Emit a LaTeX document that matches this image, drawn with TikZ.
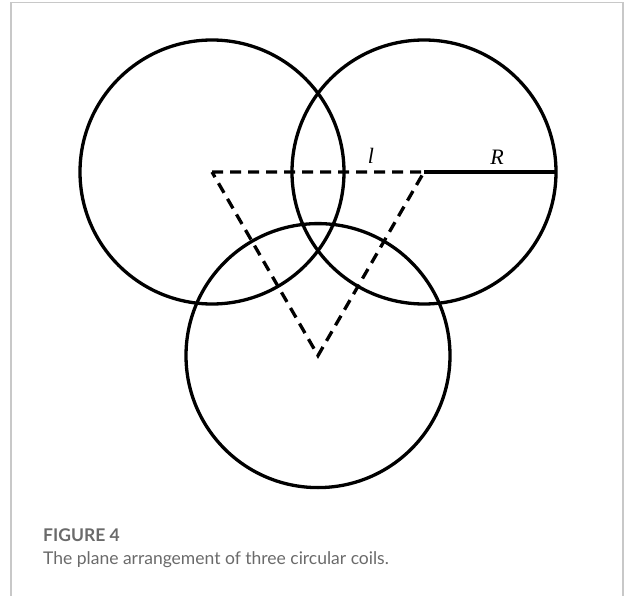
\documentclass[tikz,border=0pt]{standalone}
\usepackage{fontspec}
\setmainfont{Liberation Serif}
\newfontfamily\capfont{Lato}
\usetikzlibrary{positioning}
\definecolor{framegray}{HTML}{C8C8C8}
\definecolor{capgray}{HTML}{6A6A6A}

\begin{document}
\begin{tikzpicture}[x=1pt,y=-1pt,
    coil/.style={circle,draw,line width=3.3pt,minimum size=264pt,inner sep=0pt},
    axis/.style={line width=3.3pt,dash pattern=on 11pt off 7pt},
    caption/.style={anchor=west,inner sep=0pt,text=capgray,font=\capfont\fontsize{17.5}{20}\selectfont}]
  \useasboundingbox (0,0) rectangle (624,596);
  % frame round the figure
  \draw[framegray,line width=1.5pt] (11,596) -- (11,2.5) -- (623,2.5) -- (623,596);
  % centres of the three coils
  \coordinate (ca) at (212,172);
  \coordinate (cb) at (424,172);
  \coordinate (cc) at (318,355.6);
  \coordinate (rim) at (556,172);
  % the coils
  \node[coil] (coila) at (ca) {};
  \node[coil] (coilb) at (cb) {};
  \node[coil] (coilc) at (cc) {};
  % triangle of centres and the radius
  \draw[axis] (ca) -- (cb) -- (cc) -- cycle;
  \draw[line width=3.3pt] (cb) -- (rim);
  \node[inner sep=0pt,font=\fontsize{22}{24}\selectfont\itshape] (lab-l) at (371,156) {l};
  \node[inner sep=0pt,font=\fontsize{22}{24}\selectfont\itshape] (lab-R) at (497,157) {R};
  % caption
  \node[caption,font=\capfont\bfseries\fontsize{17.5}{20}\selectfont] (fig) at (43,535) {FIGURE 4};
  \node[caption] (cap) at (43,560) {The plane arrangement of three circular coils.};
\end{tikzpicture}
\end{document}
